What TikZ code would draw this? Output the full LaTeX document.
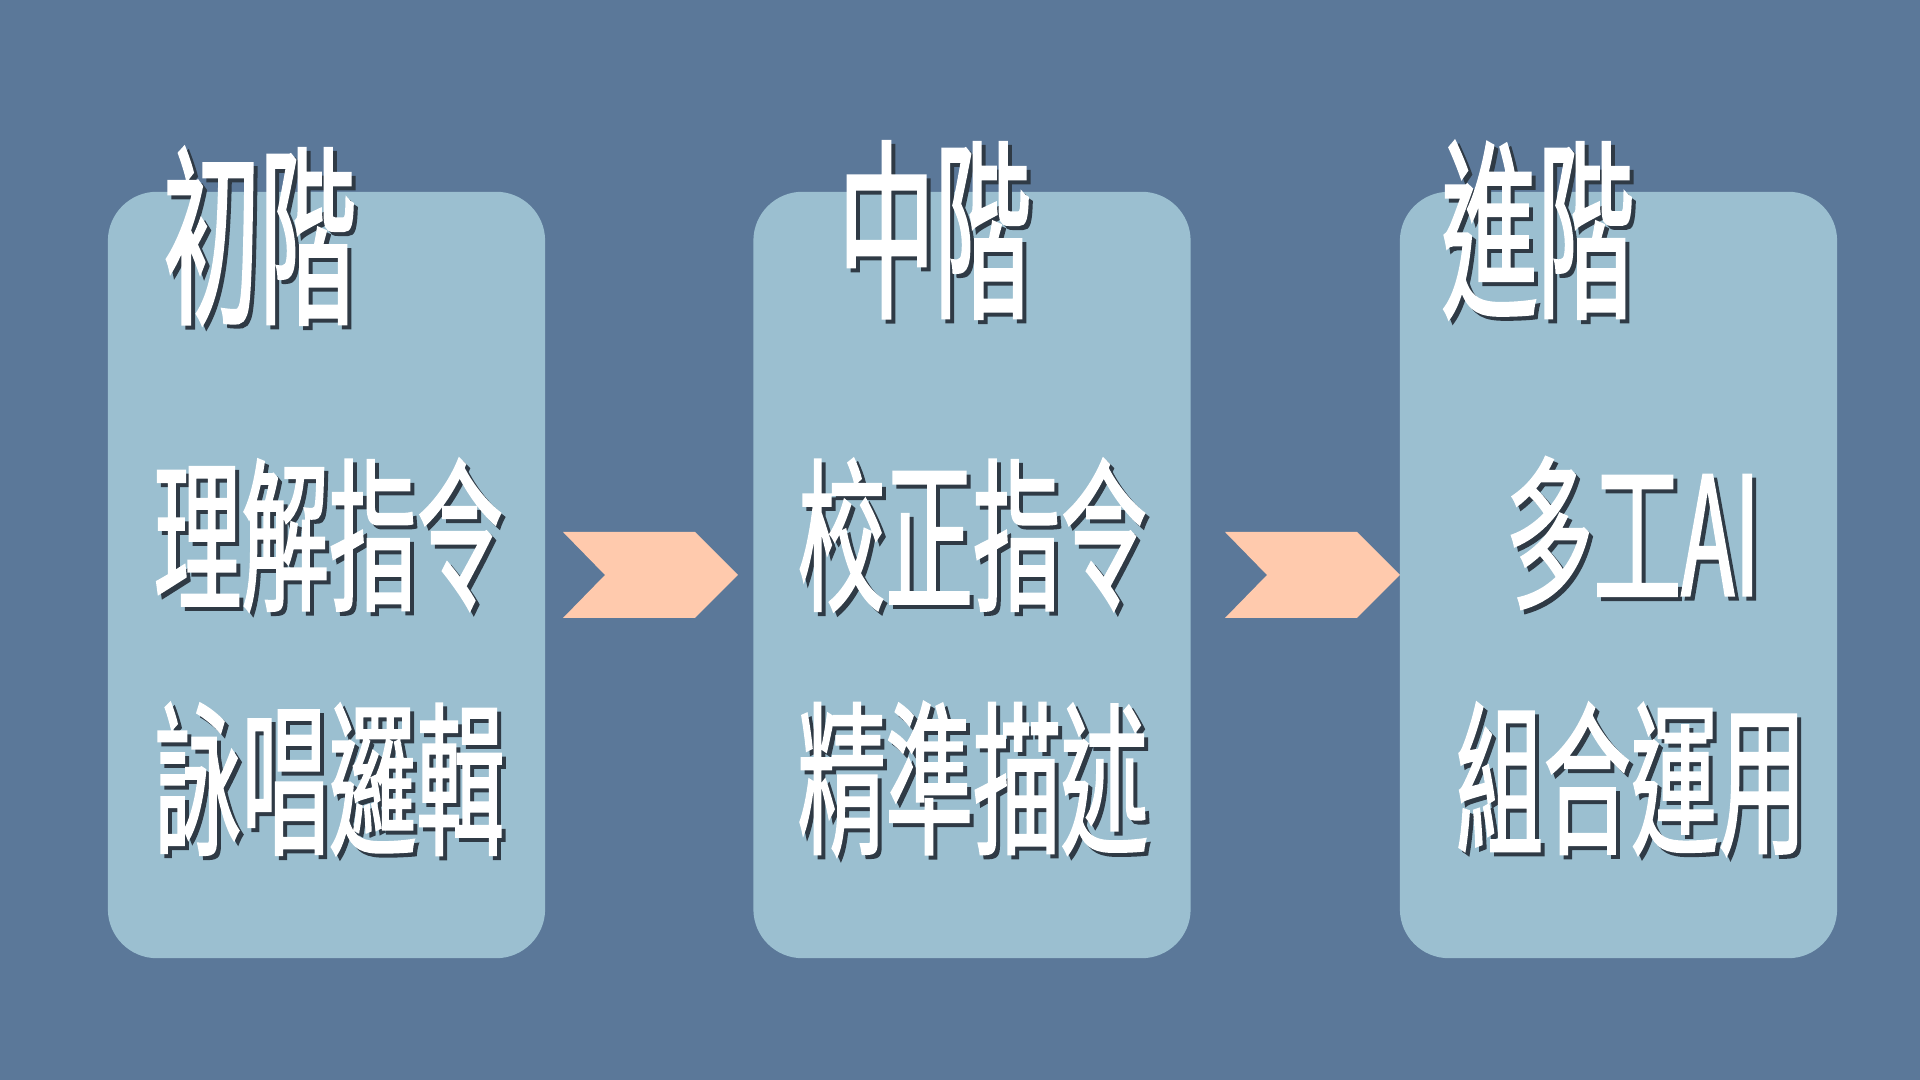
\documentclass[tikz,border=0pt]{standalone}
\usepackage{fontspec}
\usetikzlibrary{calc}
\newfontfamily\hanfont{Noto Sans CJK TC}[FakeStretch=0.53,FakeBold=1.1]
\newfontfamily\headfont{Noto Sans CJK TC}[FakeStretch=0.50,FakeBold=1.1]
\definecolor{slate}{HTML}{5B7899}
\definecolor{paleblue}{HTML}{9BBFD0}
\definecolor{peach}{HTML}{FFCAAD}
\definecolor{inkshadow}{HTML}{2F3A45}
\newcommand*\shadowLabel[4]{%
    \node[stage/shadow,stage/#3] (#1-s) at ($(#2)+(4,4)$) {#4};
    \node[stage/label,stage/#3]  (#1)   at (#2) {#4};
}
\newcommand*\chevronAt[1]{%
    \fill[stage/chevron] (#1,532) -- ++(132,0) -- ++(43,43) -- ++(-43,43)
        -- ++(-132,0) -- ++(42,-43) -- cycle;
}
\tikzset{stage/.cd,
         box/.style={fill=paleblue,rounded corners=0.49cm,
                     minimum width=4.37cm,minimum height=7.66cm,inner sep=0pt},
         label/.style={text=white,inner sep=0pt},
         shadow/.style={text=inkshadow,inner sep=0pt},
         title/.style={font=\headfont\fontsize{55}{55}\selectfont},
         body/.style={font=\hanfont\fontsize{47}{47}\selectfont},
         chevron/.style={fill=peach}}
\begin{document}
\begin{tikzpicture}[x=0.01cm,y=-0.01cm]
\fill[slate] (0,0) rectangle (1920,1080);
\useasboundingbox (0,0) rectangle (1920,1080);
\foreach \n/\x in {1/326.5,2/972,3/1618.5}
    \node[stage/box] (box\n) at (\x,575) {};
\foreach \x in {563,1225}
    {\chevronAt{\x}}
\shadowLabel{title1}{260,236}{title}{初階}
\shadowLabel{title2}{935,230}{title}{中階}
\shadowLabel{title3}{1538,230}{title}{進階}
\shadowLabel{line1a}{329,535}{body}{理解指令}
\shadowLabel{line1b}{329,779}{body}{詠唱邏輯}
\shadowLabel{line2a}{973,535}{body}{校正指令}
\shadowLabel{line2b}{973,779}{body}{精準描述}
\shadowLabel{line3a}{1633,533}{body}{多工AI}
\shadowLabel{line3b}{1631,779}{body}{組合運用}
\end{tikzpicture}
\end{document}
